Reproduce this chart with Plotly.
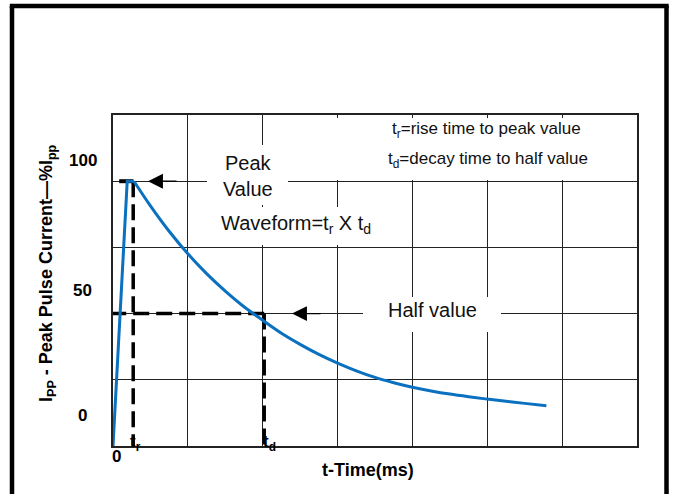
import plotly.graph_objects as go

# ---- data ----
rise_time_ms = [0, 1.9, 2.8]
rise_pct = [0, 100, 100]
decay_time_ms = [2.8, 5, 7.5, 10, 12.5, 15, 17.5, 20, 22.5, 25, 27.5, 30, 32.5, 35, 37.5,
                 40, 42.5, 45, 47.5, 50, 52.5, 55, 57.9]
decay_pct = [100, 90.7, 81.1, 72.6, 65.1, 58.5, 52.6, 47.5, 42.6, 38.4, 34.6, 31.3, 28.4, 25.9, 23.9,
             22.2, 20.8, 19.6, 18.6, 17.7, 16.9, 16.1, 15.2]
peak_pct = 100
half_pct = 50
t_rise = 2.7
t_decay = 20.2
y_tick_values = [0, 50, 100]
y_tick_labels = ["0", "50", "100"]
x_tick_values = [0, t_rise, t_decay]
x_tick_labels = ["0", "t<sub>r</sub>", "t<sub>d</sub>"]

# ---- geometry helpers (pixel -> paper) ----
W, H = 673, 494
L, R, T, B = 113, 36, 115, 48
PW, PH = W - L - R, H - T - B


def px_x(p):
    return (p - L) / PW


def px_y(p):
    return (H - B - p) / PH


FONT = "Arial, Liberation Sans, sans-serif"
BLUE = "#0a70c0"
GRID = "#222222"

fig = go.Figure()

dash_style = dict(color="black", width=3.5, dash="16px,7px")
# dashed guide lines
fig.add_trace(go.Scatter(x=[t_rise, t_rise], y=[peak_pct, 0], mode="lines", line=dash_style, hoverinfo="skip"))
fig.add_trace(go.Scatter(x=[t_rise, 0], y=[peak_pct, peak_pct], mode="lines",
                         line=dict(color="black", width=4, dash="14px,7px"), hoverinfo="skip"))
fig.add_trace(go.Scatter(x=[t_decay, 0], y=[half_pct, half_pct], mode="lines", line=dash_style, hoverinfo="skip"))
fig.add_trace(go.Scatter(x=[t_decay, t_decay], y=[half_pct, 0], mode="lines", line=dash_style, hoverinfo="skip"))

# waveform: linear rise, smooth decay
fig.add_trace(go.Scatter(x=rise_time_ms, y=rise_pct, mode="lines",
                         line=dict(color=BLUE, width=3), hoverinfo="skip"))
fig.add_trace(go.Scatter(x=decay_time_ms, y=decay_pct, mode="lines",
                         line=dict(color=BLUE, width=3, shape="spline", smoothing=1.0), hoverinfo="skip"))

# white boxes behind in-plot labels (pixel boxes)
boxes = [(207, 145, 288, 205), (215, 207, 378, 245), (363, 297, 501, 332), (336, 118, 632, 180)]
shapes = []
for x0, y0, x1, y1 in boxes:
    shapes.append(dict(type="rect", xref="paper", yref="paper", x0=px_x(x0), x1=px_x(x1),
                       y0=px_y(y1), y1=px_y(y0), fillcolor="white", line=dict(width=0), layer="above"))
# outer frame (open at the bottom)
frame_lines = [((12, 520), (12, 6)), ((9.8, 6), (668.7, 6)), ((666.5, 6), (666.5, 520))]
for (xa, ya), (xb, yb) in frame_lines:
    shapes.append(dict(type="line", xref="paper", yref="paper", x0=px_x(xa), y0=px_y(ya),
                       x1=px_x(xb), y1=px_y(yb), line=dict(color="black", width=4.5), layer="above"))

annotations = []
# in-plot texts
text_items = [
    ("Peak<br>Value", 247.5, 176, 20),
    ("Waveform=t<sub>r</sub> X t<sub>d</sub>", 296, 224, 20),
    ("Half value", 432, 309.5, 20),
    ("t<sub>r</sub>=rise time to peak value", 486, 130, 17),
    ("t<sub>d</sub>=decay time to half value", 488, 160, 17),
]
for txt, cx, cy, fs in text_items:
    annotations.append(dict(text=txt, xref="paper", yref="paper", x=px_x(cx), y=px_y(cy),
                            xanchor="center", yanchor="middle", showarrow=False,
                            font=dict(family=FONT, size=fs, color="#111")))
# arrow heads pointing left onto peak / half levels
for tip_x, level in [(148, peak_pct), (292, half_pct)]:
    annotations.append(dict(text="", xref="paper", yref="y", x=px_x(tip_x), y=level,
                            ax=30, ay=0, showarrow=True, arrowhead=2, arrowsize=2.3,
                            arrowwidth=1.3, arrowcolor="black"))

# y tick labels (centered, sitting above their levels)
y_label_shift = [31, 23, 20.5]
for v, lab, sh in zip(y_tick_values, y_tick_labels, y_label_shift):
    annotations.append(dict(text="<b>%s</b>" % lab, xref="paper", yref="y", x=px_x(82.5), y=v,
                            yshift=sh, xanchor="center", yanchor="middle", showarrow=False,
                            font=dict(family=FONT, size=17, color="black")))
# x tick labels
x_label_shift = [(3.5, -10), (2.5, 3), (5, 3)]
for v, lab, (sx, sy) in zip(x_tick_values, x_tick_labels, x_label_shift):
    annotations.append(dict(text="<b>%s</b>" % lab, xref="x", yref="paper", x=v, y=0,
                            xshift=sx, yshift=sy, xanchor="center", yanchor="middle", showarrow=False,
                            font=dict(family=FONT, size=17, color="black")))
# axis titles
annotations.append(dict(text="<b>t-Time(ms)</b>", xref="paper", yref="paper", x=px_x(368), y=px_y(470),
                        xanchor="center", yanchor="middle", showarrow=False,
                        font=dict(family=FONT, size=18, color="black")))
annotations.append(dict(text="<b>I<sub>PP</sub> - Peak Pulse Current\u2014%I<sub>pp</sub></b>",
                        xref="paper", yref="paper", x=px_x(47), y=px_y(273), textangle=-90,
                        xanchor="center", yanchor="middle", showarrow=False,
                        font=dict(family=FONT, size=18, color="black")))

axis_common = dict(showgrid=True, gridcolor=GRID, gridwidth=1.2, zeroline=False,
                   showline=True, linecolor=GRID, linewidth=1.5, mirror=True,
                   showticklabels=False, ticks="", fixedrange=True)

fig.update_layout(
    width=W, height=H,
    margin=dict(l=L, r=R, t=T, b=B),
    paper_bgcolor="white", plot_bgcolor="white",
    showlegend=False,
    xaxis=dict(range=[0, 70], dtick=10, tick0=0, **axis_common),
    yaxis=dict(range=[0, 125], dtick=25, tick0=0, **axis_common),
    shapes=shapes,
    annotations=annotations,
)

fig.write_html("out.html", config={"displayModeBar": False},
               post_script="document.body.style.margin='0px';")
